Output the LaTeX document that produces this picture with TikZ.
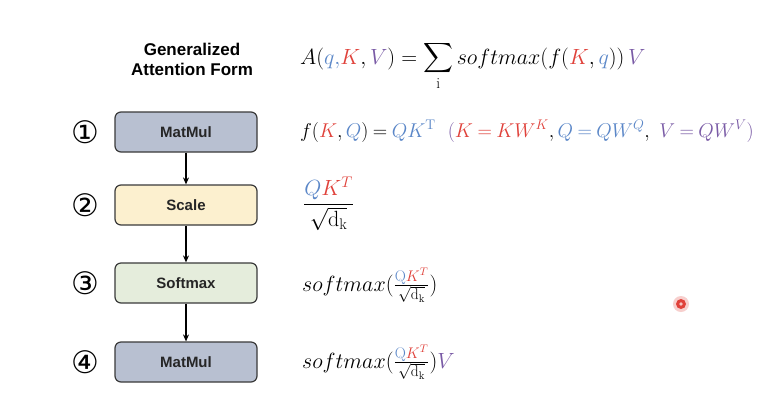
\documentclass[tikz,border=0pt]{standalone}
\usepackage{fix-cm}
\usepackage{amsmath}
\usepackage{fontspec}
\newfontfamily\lsans{Liberation Sans}
\newfontfamily\dejavu{DejaVu Sans}
\usetikzlibrary{arrows.meta}
\definecolor{cb}{HTML}{5B87C8}
\definecolor{cr}{HTML}{E0413A}
\definecolor{cp}{HTML}{7A5BA6}
\definecolor{fillA}{HTML}{B8C0D1}
\definecolor{fillB}{HTML}{FCF0CF}
\definecolor{fillC}{HTML}{E5EDDC}
\definecolor{edge}{HTML}{3A3A3A}
\begin{document}
\begin{tikzpicture}[x=1pt,y=-1pt,
 opbox/.style={draw=edge, line width=1.2pt, rounded corners=6pt, minimum width=142pt, minimum height=40pt, inner sep=0pt, font=\lsans\bfseries\fontsize{15}{18}\selectfont, text=black!85},
 num/.style={font=\dejavu\fontsize{31}{34}\selectfont, inner sep=0pt},
 flow/.style={-{Stealth[length=7pt,width=6pt]}, line width=1.1pt, black},
 eq/.style={anchor=base west, inner sep=0pt, font=\fontsize{22}{26}\selectfont},
 ttl/.style={anchor=base, inner sep=0pt, font=\lsans\bfseries\fontsize{17}{20}\selectfont},
]
\useasboundingbox (0,0) rectangle (762,408);
\fill[white] (0,0) rectangle (762,408);
% title
\node[ttl] (t1) at (192,55) {Generalized};
\node[ttl] (t2) at (192,75) {Attention Form};
% boxes
\node[opbox, fill=fillA] (b1) at (186,132) {MatMul};
\node[opbox, fill=fillB] (b2) at (186,205) {Scale};
\node[opbox, fill=fillC] (b3) at (186,283) {Softmax};
\node[opbox, fill=fillA] (b4) at (186,362) {MatMul};
\draw[flow] (b1) -- (b2);
\draw[flow] (b2) -- (b3);
\draw[flow] (b3) -- (b4);
% numbers
\node[num] (n1) at (85,132) {①};
\node[num] (n2) at (85,205) {②};
\node[num] (n3) at (85,283) {③};
\node[num] (n4) at (85,362) {④};
% formulas
\node[eq] (e0) at (300,64) {$\displaystyle A({\color{cb}q,}{\color{cr}K},{\color{cp}V}) = \sum_{\mathrm{i}} softmax(f({\color{cr}K},{\color{cb}q}))\,{\color{cp}V}$};
\node[eq, font=\fontsize{20}{24}\selectfont] (e1) at (300,137) {$\thickmuskip=4mu f({\color{cr}K},{\color{cb}Q}) = {\color{cb}QK^{\mathrm{T}}}\ \ {\color{cp}(}{\color{cr}K=KW^K},{\color{cb}Q=QW^Q},\ {\color{cp}V=QW^V)}$};
\node[eq] (e2) at (303,210) {$\dfrac{{\color{cb}Q}{\color{cr}K^T}}{\sqrt{\mathrm{d_k}}}$};
\node[eq] (e3) at (302,291) {$softmax(\frac{{\color{cb}\mathrm{Q}}{\color{cr}K^T}}{\sqrt{\mathrm{d_k}}})$};
\node[eq] (e4) at (302,368) {$softmax(\frac{{\color{cb}\mathrm{Q}}{\color{cr}K^T}}{\sqrt{\mathrm{d_k}}}){\color{cp}V}$};
% pointer dot
\fill[cr, opacity=0.25] (681,304) circle (8);
\fill[cr] (681,304) circle (5);
\fill[white!70!cr] (681,304) circle (1.8);
\end{tikzpicture}
\end{document}
